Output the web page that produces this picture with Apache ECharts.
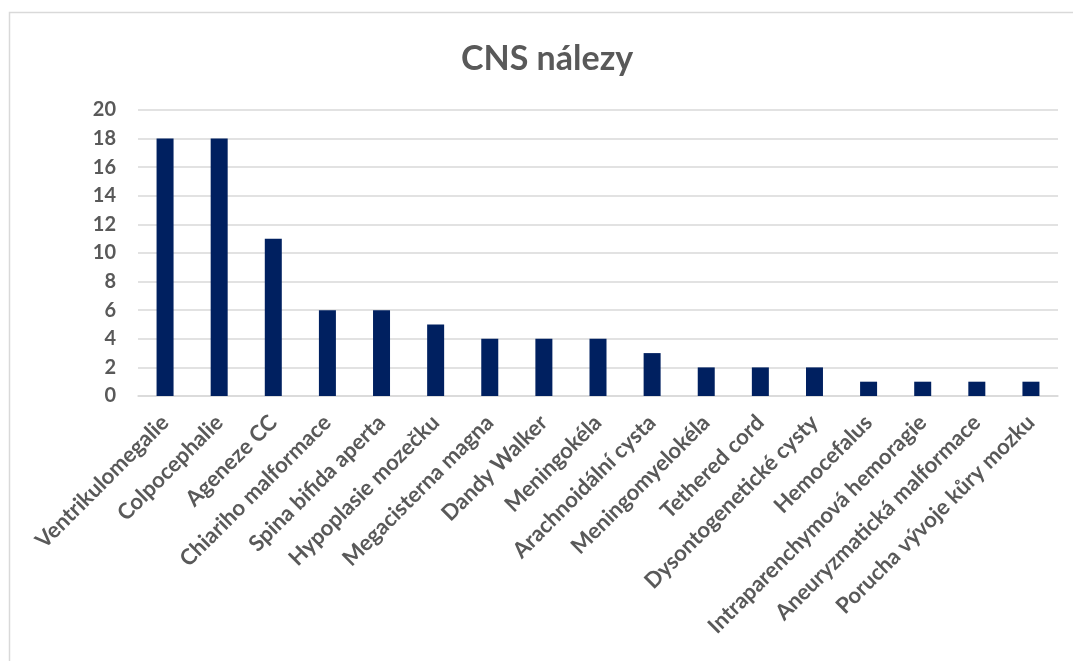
<!DOCTYPE html>
<html>
<head>
<meta charset="utf-8">
<script src="https://cdn.jsdelivr.net/npm/echarts@6/dist/echarts.min.js"></script>
<style>
  html, body { margin: 0; padding: 0; background: #fff; }
  #chart { width: 1073px; height: 661px; }
</style>
</head>
<body>
<div id="chart"></div>
<script>
// Findings of the central nervous system (counts)
const categories = [
  'Ventrikulomegalie', 'Colpocephalie', 'Ageneze CC', 'Chiariho malformace',
  'Spina bifida aperta', 'Hypoplasie mozečku', 'Megacisterna magna', 'Dandy Walker',
  'Meningokéla', 'Arachnoidální cysta', 'Meningomyelokéla', 'Tethered cord',
  'Dysontogenetické cysty', 'Hemocefalus', 'Intraparenchymová hemoragie',
  'Aneuryzmatická malformace', 'Porucha vývoje kůry mozku'
];
const counts = [18, 18, 11, 6, 6, 5, 4, 4, 4, 3, 2, 2, 2, 1, 1, 1, 1];
const yTicks = { min: 0, max: 20, interval: 2 };

const fontFamily = 'Lato, "Open Sans", sans-serif';
const textColor = '#595959';

const chart = echarts.init(document.getElementById('chart'), null, { renderer: 'canvas' });
chart.setOption({
  animation: false,
  backgroundColor: '#ffffff',
  graphic: [{
    type: 'rect',
    shape: { x: 9.5, y: 12.5, width: 1200, height: 800 },
    style: { fill: 'none', stroke: '#d9d9d9', lineWidth: 1.5 },
    silent: true
  }],
  title: {
    text: 'CNS nálezy',
    left: 456,
    top: 37,
    textStyle: { fontFamily, fontSize: 34, fontWeight: 'bold', color: textColor }
  },
  grid: { left: 138, right: 15, top: 110, bottom: 265, containLabel: false },
  xAxis: {
    type: 'category',
    data: categories,
    axisLine: { show: true, lineStyle: { color: '#d9d9d9', width: 1.5 } },
    axisTick: { show: false },
    axisLabel: {
      interval: 0,
      rotate: 45,
      margin: 23,
      fontFamily, fontSize: 22, fontWeight: 'bold', color: textColor
    }
  },
  yAxis: {
    type: 'value',
    min: yTicks.min, max: yTicks.max, interval: yTicks.interval,
    axisLine: { show: false },
    axisTick: { show: false },
    splitLine: { lineStyle: { color: '#d9d9d9', width: 1.5 } },
    axisLabel: { margin: 22, fontFamily, fontSize: 20, fontWeight: 'bold', color: textColor }
  },
  series: [{
    type: 'bar',
    data: counts,
    barWidth: 17,
    itemStyle: { color: '#002060' }
  }]
});
</script>
</body>
</html>
